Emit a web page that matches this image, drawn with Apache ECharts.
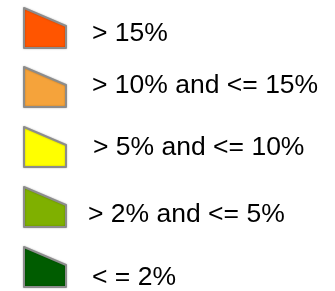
<!DOCTYPE html>
<html>
<head>
<meta charset="utf-8">
<script src="https://cdn.jsdelivr.net/npm/echarts@6/dist/echarts.min.js"></script>
<style>
  html, body { margin: 0; padding: 0; background: #fff; }
  #chart01 { width: 335px; height: 291px; }
</style>
</head>
<body>
<div id="chart01"></div>
<script>
var categories = ['> 15%', '> 10% and <= 15%', '> 5% and <= 10%', '> 2% and <= 5%', '< = 2%'];
var colors = ['#ff5500', '#f5a33b', '#ffff00', '#7fb000', '#005c00'];

// layout of each legend row: icon top, text shift right, text shift down
var rowTop = [7, 66, 126, 186, 246];
var textDx = [21, 21, 22, 17, 21];
var textDy = [6, -1, 1, 8, 11];

var chartDom = document.getElementById('chart01');
var myChart = echarts.init(chartDom);
var option;

var legends = [];
var series = [];
for (var i = 0; i < categories.length; i++) {
  series.push({
    name: categories[i],
    type: 'pie',
    showEmptyCircle: false,
    silent: true,
    itemStyle: { color: colors[i] },
    data: []
  });
  var dy = textDy[i];
  legends.push({
    data: [categories[i]],
    left: 23,
    top: rowTop[i],
    padding: 0,
    orient: 'vertical',
    selectedMode: false,
    icon: 'path://M0,0 L42,18 L42,40 L0,40 Z',
    itemWidth: 42,
    itemHeight: 40,
    itemStyle: {
      borderColor: '#8c8c8c',
      borderWidth: 2,
      shadowBlur: 2,
      shadowColor: 'rgba(0,0,0,0.25)'
    },
    formatter: '{t|{name}}',
    textStyle: {
      fontFamily: 'Liberation Sans, Arial, sans-serif',
      fontSize: 26.5,
      color: '#000',
      rich: {
        t: {
          fontFamily: 'Liberation Sans, Arial, sans-serif',
          fontSize: 26.5,
          color: '#000',
          padding: dy >= 0 ? [2 * dy, 0, 0, textDx[i]] : [0, 0, -2 * dy, textDx[i]]
        }
      }
    }
  });
}

option = {
  animation: false,
  legend: legends,
  series: series
};

option && myChart.setOption(option);
</script>
</body>
</html>
